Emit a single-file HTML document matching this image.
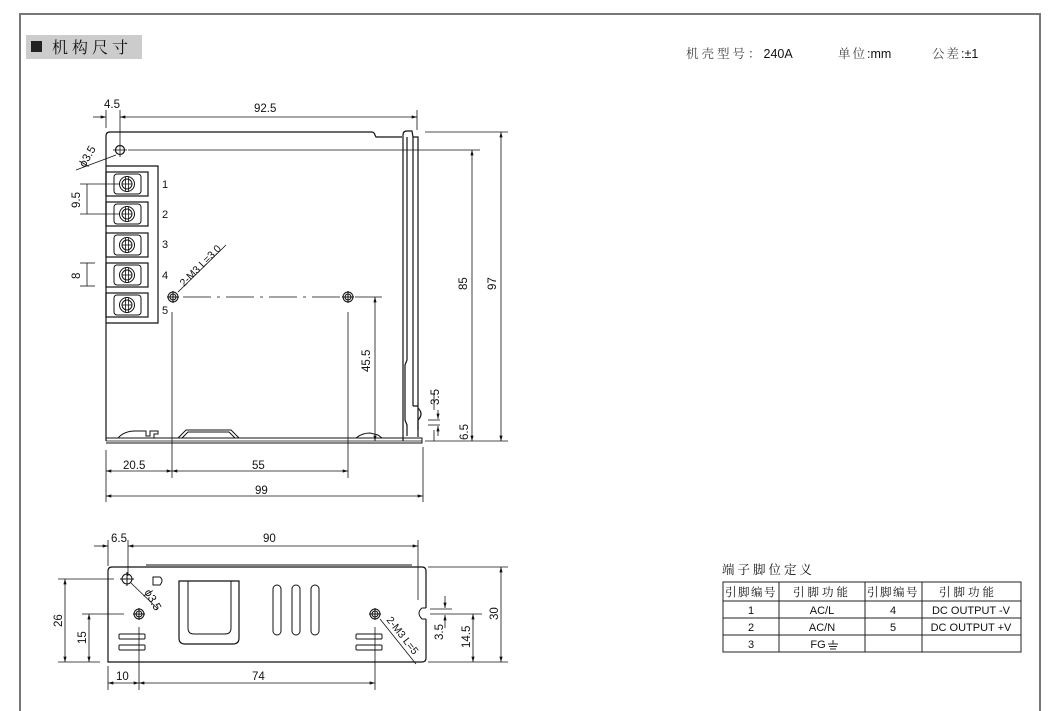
<!DOCTYPE html>
<html><head><meta charset="utf-8"><style>
html,body{margin:0;padding:0;background:#fff;width:1055px;height:711px;overflow:hidden}
svg{display:block}
text{font-family:"Liberation Sans","Noto Sans CJK SC",sans-serif;fill:#111}
.cjk{font-family:"Noto Serif CJK SC","Noto Sans CJK SC",serif}
</style></head><body>
<svg width="1055" height="711" viewBox="0 0 1055 711" xmlns="http://www.w3.org/2000/svg">
<defs>
<marker id="a" viewBox="0 0 10 6" refX="10" refY="3" markerWidth="8" markerHeight="4" orient="auto-start-reverse"><path d="M0,0L10,3L0,6z" fill="#111"/></marker>
<g id="term">
<rect x="106" y="-12" width="42" height="24" fill="none" stroke="#111" stroke-width="1.2"/>
<rect x="114" y="-10" width="27" height="20" rx="3" fill="none" stroke="#111"/>
<circle cx="127" cy="0" r="7.5" fill="none" stroke="#111"/>
<circle cx="127" cy="0" r="5" fill="none" stroke="#111"/>
<line x1="125.5" y1="-7" x2="125.5" y2="7" stroke="#111" stroke-width="0.8"/>
<line x1="128.5" y1="-7" x2="128.5" y2="7" stroke="#111" stroke-width="0.8"/>
<line x1="122" y1="0" x2="132" y2="0" stroke="#111" stroke-width="0.8"/>
</g>
</defs>
<!-- frame -->
<polyline points="20,711 20,14 1040,14 1040,711" fill="none" stroke="#777" stroke-width="2"/>
<!-- header -->
<rect x="26" y="35" width="116" height="24" fill="#ccc"/>
<rect x="31" y="41" width="11" height="11" fill="#222"/>
<text x="52" y="53" class="cjk" font-size="16" fill="#444" letter-spacing="4">机构尺寸</text>
<text x="686" y="58" font-size="12.5" fill="#333"><tspan class="cjk" fill="#444" letter-spacing="3">机壳型号：</tspan>240A</text>
<text x="838" y="58" font-size="12.5" fill="#333"><tspan class="cjk" fill="#444" letter-spacing="2">单位</tspan>:mm</text>
<text x="932" y="58" font-size="12.5" fill="#333"><tspan class="cjk" fill="#444" letter-spacing="2">公差</tspan>:±1</text>

<g stroke="#111" fill="none" stroke-width="1.2">
<path d="M106,441 L106,136 Q106,132 110,132 L372,132 Q374,132 375,135 L376,137 L402,137"/>
<path d="M403,441 L403,135 Q403,131 407,131 L412,131 L413,137 L418,137 L418,430"/>
<path d="M407,137 L407,360 L405,365 L405,420 L407,425 L407,436"/>
<line x1="413" y1="137" x2="413" y2="406"/>
<path d="M413,406 L418,406 M418,408 Q424,414 418,420 M418,420 L418,437"/>
<path d="M106,438 L422,438 L422,443 L106,443" stroke-width="1"/>
<line x1="106" y1="441" x2="422" y2="441" stroke-width="0.8"/>
<path d="M118,438 Q124,431 135,431 L146,431 L146,436 L150,436 L150,431 L158,431 L158,434 L154,434 L154,438" stroke-width="1"/>
<path d="M178,438 L186,430 L231,430 L239,438 M182,438 L188,432 L229,432 L235,438" stroke-width="1"/>
<path d="M356,438 Q362,433 370,433 L378,435 L382,438" stroke-width="1"/>
<circle cx="120" cy="150" r="4.5"/>
<line x1="113" y1="150" x2="127" y2="150" stroke-width="0.8"/><line x1="120" y1="143" x2="120" y2="157" stroke-width="0.8"/>
<line x1="116" y1="155" x2="76" y2="170" stroke-width="0.8"/>
<path d="M106,166 L158,166 L158,323 L106,323"/>
</g>
<use href="#term" y="184"/><use href="#term" y="214"/><use href="#term" y="245"/><use href="#term" y="275"/><use href="#term" y="305"/>
<g font-size="11">
<text x="162" y="188">1</text><text x="162" y="218">2</text><text x="162" y="248">3</text><text x="162" y="279">4</text><text x="162" y="314">5</text>
</g>
<g stroke="#111" fill="none" stroke-width="1">
<circle cx="173" cy="297" r="5"/><circle cx="173" cy="297" r="3"/><line x1="167" y1="297" x2="179" y2="297"/><line x1="173" y1="291" x2="173" y2="303"/>
<circle cx="348" cy="297" r="5"/><circle cx="348" cy="297" r="3"/><line x1="342" y1="297" x2="354" y2="297"/><line x1="348" y1="291" x2="348" y2="303"/>
<line x1="178" y1="292" x2="226" y2="245" stroke-width="0.8"/>
<line x1="183" y1="297" x2="382" y2="297" stroke-dasharray="28,6,3,6" stroke-width="0.8"/>
<g stroke-width="0.8">
<line x1="172" y1="312" x2="172" y2="478"/><line x1="348" y1="312" x2="348" y2="478"/>
<line x1="375" y1="297" x2="375" y2="441" marker-start="url(#a)" marker-end="url(#a)"/>
<line x1="128" y1="150" x2="480" y2="150"/>
<line x1="425" y1="132" x2="508" y2="132"/>
<line x1="425" y1="441" x2="508" y2="441"/>
<line x1="472" y1="150" x2="472" y2="441" marker-start="url(#a)" marker-end="url(#a)"/>
<line x1="501" y1="132" x2="501" y2="441" marker-start="url(#a)" marker-end="url(#a)"/>
<line x1="434" y1="410" x2="434" y2="393"/>
<line x1="434" y1="430" x2="434" y2="441"/>
<line x1="428" y1="420" x2="440" y2="420"/><line x1="428" y1="425" x2="440" y2="425"/>
<line x1="438" y1="410" x2="438" y2="419" marker-end="url(#a)"/>
<line x1="438" y1="436" x2="438" y2="426" marker-end="url(#a)"/>
<line x1="106" y1="450" x2="106" y2="502"/><line x1="423" y1="447" x2="423" y2="502"/>
<line x1="106" y1="471" x2="172" y2="471" marker-start="url(#a)" marker-end="url(#a)"/>
<line x1="172" y1="471" x2="348" y2="471" marker-start="url(#a)" marker-end="url(#a)"/>
<line x1="106" y1="496" x2="423" y2="496" marker-start="url(#a)" marker-end="url(#a)"/>
<line x1="106" y1="110" x2="106" y2="128"/><line x1="120" y1="110" x2="120" y2="143"/><line x1="417" y1="110" x2="417" y2="130"/>
<line x1="93" y1="117" x2="106" y2="117" marker-end="url(#a)"/>
<line x1="120" y1="117" x2="417" y2="117" marker-start="url(#a)" marker-end="url(#a)"/>
<line x1="80" y1="184" x2="120" y2="184"/><line x1="80" y1="214" x2="120" y2="214"/>
<line x1="87" y1="184" x2="87" y2="214"/>
<line x1="80" y1="263" x2="95" y2="263"/><line x1="80" y1="286" x2="95" y2="286"/><line x1="87" y1="263" x2="87" y2="286"/>
</g>
</g>
<g font-size="11.5">
<text x="104" y="108">4.5</text><text x="254" y="112">92.5</text>
<text x="123" y="469">20.5</text><text x="252" y="469">55</text><text x="255" y="494">99</text>
<text transform="translate(85,168) rotate(-60)">ϕ3.5</text>
<text transform="translate(184,287) rotate(-45)" font-size="10.5">2-M3 L=3.0</text>
<text transform="translate(80,208) rotate(-90)">9.5</text>
<text transform="translate(80,279) rotate(-90)">8</text>
<text transform="translate(370,372) rotate(-90)">45.5</text>
<text transform="translate(467,290) rotate(-90)">85</text>
<text transform="translate(496,290) rotate(-90)">97</text>
<text transform="translate(439,405) rotate(-90)">3.5</text>
<text transform="translate(468,440) rotate(-90)">6.5</text>
</g>

<g stroke="#111" fill="none" stroke-width="1.2">
<path d="M112,567 L422,567 Q426,567 426,571 L426,608 M426,619 L426,658 Q426,662 422,662 L108,662 L108,571 Q108,567 112,567"/>
<line x1="146" y1="565" x2="412" y2="565" stroke-width="1"/>
<path d="M426,608 L422,608 Q416,613 422,619 L426,619" stroke-width="1"/>
<path d="M179,581 L239,581 L239,638 Q239,644 233,644 L185,644 Q179,644 179,638 Z"/>
<path d="M188,581 L188,628 Q188,634 194,634 L225,634 Q231,634 231,628 L231,581" stroke-width="1"/>
<rect x="273" y="585" width="8" height="50" rx="4" stroke-width="1"/>
<rect x="292" y="585" width="8" height="50" rx="4" stroke-width="1"/>
<rect x="311" y="585" width="8" height="50" rx="4" stroke-width="1"/>
<g stroke-width="1">
<rect x="119" y="634" width="26" height="5" rx="1"/><rect x="119" y="645" width="26" height="5" rx="1"/>
<rect x="356" y="634" width="26" height="5" rx="1"/><rect x="356" y="645" width="26" height="5" rx="1"/>
<circle cx="127" cy="579" r="5"/><line x1="120" y1="579" x2="134" y2="579"/><line x1="127" y1="572" x2="127" y2="586"/>
<path d="M153,577 L160,577 Q164,580 160,585 L153,585 Z"/>
<circle cx="139" cy="614" r="5"/><circle cx="139" cy="614" r="3"/><line x1="133" y1="614" x2="145" y2="614"/><line x1="139" y1="608" x2="139" y2="620"/>
<circle cx="375" cy="614" r="5"/><circle cx="375" cy="614" r="3"/><line x1="369" y1="614" x2="381" y2="614"/><line x1="375" y1="608" x2="375" y2="620"/>
</g>
<g stroke-width="0.8">
<line x1="131" y1="583" x2="158" y2="609"/>
<line x1="380" y1="619" x2="416" y2="664"/>
<line x1="108" y1="540" x2="108" y2="566"/><line x1="128" y1="540" x2="128" y2="576"/><line x1="418" y1="540" x2="418" y2="600"/>
<line x1="94" y1="546" x2="108" y2="546" marker-end="url(#a)"/>
<line x1="128" y1="546" x2="418" y2="546" marker-start="url(#a)" marker-end="url(#a)"/>
<line x1="58" y1="579" x2="114" y2="579"/><line x1="82" y1="614" x2="124" y2="614"/><line x1="58" y1="662" x2="100" y2="662"/>
<line x1="65" y1="579" x2="65" y2="662" marker-start="url(#a)" marker-end="url(#a)"/>
<line x1="89" y1="614" x2="89" y2="662" marker-start="url(#a)" marker-end="url(#a)"/>
<line x1="108" y1="666" x2="108" y2="690"/><line x1="139" y1="627" x2="139" y2="690"/><line x1="375" y1="627" x2="375" y2="690"/>
<line x1="108" y1="683" x2="139" y2="683" marker-start="url(#a)" marker-end="url(#a)"/>
<line x1="139" y1="683" x2="375" y2="683" marker-start="url(#a)" marker-end="url(#a)"/>
<line x1="428" y1="567" x2="508" y2="567"/><line x1="428" y1="662" x2="508" y2="662"/>
<line x1="430" y1="614" x2="482" y2="614"/><line x1="430" y1="609" x2="452" y2="609"/>
<line x1="501" y1="567" x2="501" y2="662" marker-start="url(#a)" marker-end="url(#a)"/>
<line x1="473" y1="614" x2="473" y2="662" marker-start="url(#a)" marker-end="url(#a)"/>
<line x1="445" y1="596" x2="445" y2="608" marker-end="url(#a)"/>
<line x1="445" y1="628" x2="445" y2="615" marker-end="url(#a)"/>
</g>
</g>
<g font-size="11.5">
<text x="111" y="542">6.5</text><text x="263" y="542">90</text>
<text x="116" y="680">10</text><text x="252" y="680">74</text>
<text transform="translate(144,592) rotate(60)">ϕ3.5</text>
<text transform="translate(386,620) rotate(52)" font-size="10.5">2-M3 L=5</text>
<text transform="translate(62,627) rotate(-90)">26</text>
<text transform="translate(86,644) rotate(-90)">15</text>
<text transform="translate(443,640) rotate(-90)">3.5</text>
<text transform="translate(470,648) rotate(-90)">14.5</text>
<text transform="translate(498,620) rotate(-90)">30</text>
</g>

<text x="722" y="574" class="cjk" font-size="12.5" fill="#444" letter-spacing="3">端子脚位定义</text>
<g stroke="#222" stroke-width="1" fill="none">
<rect x="723" y="582" width="298" height="70"/>
<line x1="723" y1="601" x2="1021" y2="601"/><line x1="723" y1="618" x2="1021" y2="618"/><line x1="723" y1="635" x2="1021" y2="635"/>
<line x1="779" y1="582" x2="779" y2="652"/><line x1="865" y1="582" x2="865" y2="652"/><line x1="922" y1="582" x2="922" y2="652"/>
</g>
<g font-size="11" text-anchor="middle">
<text x="751" y="596" class="cjk" fill="#444" font-size="11.5" letter-spacing="1.5">引脚编号</text>
<text x="822" y="596" class="cjk" fill="#444" font-size="11.5" letter-spacing="3">引脚功能</text>
<text x="893" y="596" class="cjk" fill="#444" font-size="11.5" letter-spacing="1.5">引脚编号</text>
<text x="968" y="596" class="cjk" fill="#444" font-size="11.5" letter-spacing="3">引脚功能</text>
<text x="751" y="614">1</text><text x="822" y="614">AC/L</text><text x="893" y="614">4</text><text x="971" y="614">DC OUTPUT -V</text>
<text x="751" y="631">2</text><text x="822" y="631">AC/N</text><text x="893" y="631">5</text><text x="971" y="631">DC OUTPUT +V</text>
<text x="751" y="648">3</text><text x="818" y="648">FG</text>
</g>
<g stroke="#111" stroke-width="0.9"><line x1="833" y1="640" x2="833" y2="644"/><line x1="828" y1="644" x2="838" y2="644"/><line x1="829" y1="646.5" x2="837" y2="646.5"/><line x1="830" y1="649" x2="836" y2="649"/></g>
</svg>
</body></html>
